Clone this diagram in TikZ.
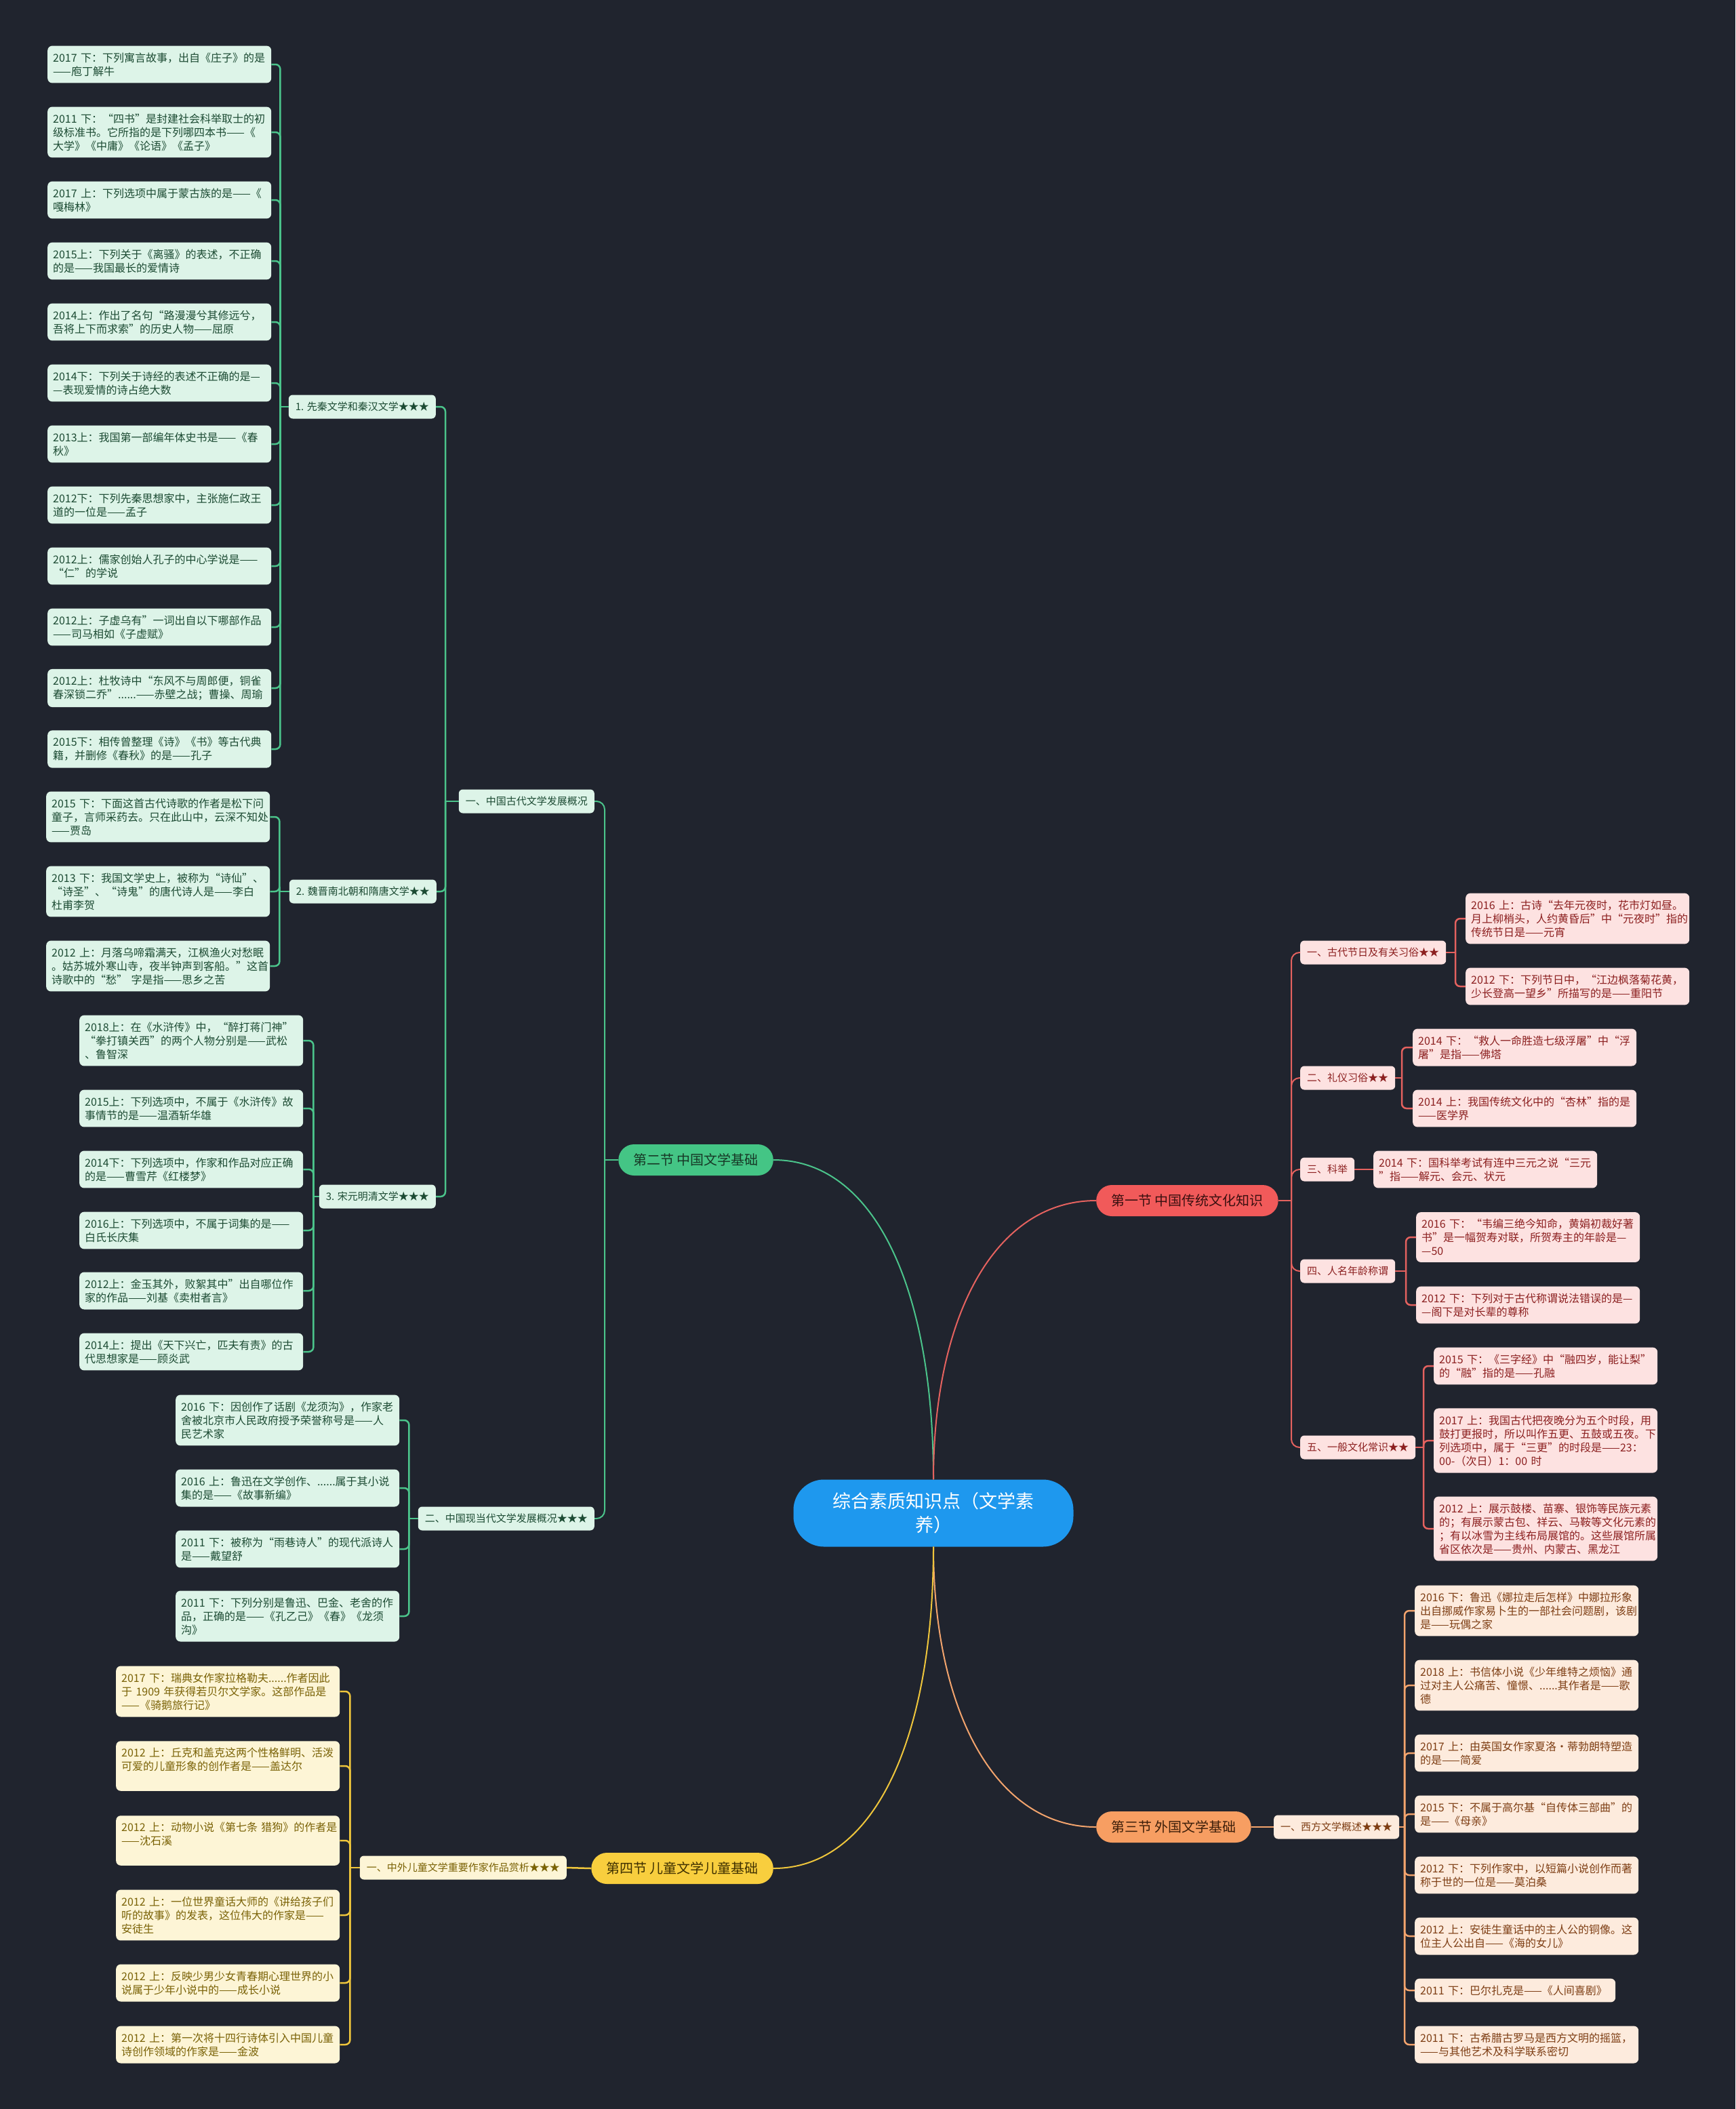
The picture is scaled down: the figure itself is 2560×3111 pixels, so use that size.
\documentclass[tikz,border=0pt]{standalone}
\usepackage{fontspec}
\newfontfamily\cjk{Noto Sans CJK SC}
\usetikzlibrary{positioning}

\definecolor{bgdark}{HTML}{20242E}
\definecolor{rootblue}{HTML}{1E98EE}
\definecolor{gmain}{HTML}{44C585}
\definecolor{gline}{HTML}{4BC48B}
\definecolor{gfill}{HTML}{DDF4E8}
\definecolor{gtext}{HTML}{1C4B33}
\definecolor{gdark}{HTML}{173826}
\definecolor{rmain}{HTML}{F15A5A}
\definecolor{rline}{HTML}{E5625F}
\definecolor{rfill}{HTML}{FDE2E1}
\definecolor{rtext}{HTML}{8C2020}
\definecolor{rdark}{HTML}{3A1010}
\definecolor{omain}{HTML}{F79E62}
\definecolor{oline}{HTML}{F3A46D}
\definecolor{ofill}{HTML}{FDEBDD}
\definecolor{otext}{HTML}{7E3E14}
\definecolor{odark}{HTML}{3D1F0A}
\definecolor{ymain}{HTML}{F8CE3E}
\definecolor{yline}{HTML}{EFC63C}
\definecolor{yfill}{HTML}{FDF5D6}
\definecolor{ytext}{HTML}{7A6206}
\definecolor{ydark}{HTML}{3F3000}

\tikzset{
  rootbox/.style={fill=rootblue,text=white,rounded corners=45pt,minimum width=413pt,
    minimum height=99pt,align=center,font={\cjk\fontsize{27}{35}\selectfont}},
  secbox/.style={rounded corners=23pt,inner xsep=22pt,inner ysep=0pt,minimum height=46pt,
    font={\cjk\fontsize{20}{24}\selectfont}},
  topicbox/.style={rounded corners=6pt,inner xsep=10pt,inner ysep=0pt,minimum height=35pt,
    font={\cjk\fontsize{15}{18}\selectfont}},
  leafbox/.style={rounded corners=7pt,align=left,text width=314pt,inner xsep=8pt,
    inner ysep=10pt,anchor=west,font={\cjk\fontsize{16}{20}\selectfont}},
  gtopic/.style={topicbox,fill=gfill,text=gtext},
  rtopic/.style={topicbox,fill=rfill,text=rtext},
  otopic/.style={topicbox,fill=ofill,text=otext},
  ytopic/.style={topicbox,fill=yfill,text=ytext},
  gleaf/.style={leafbox,fill=gfill,text=gtext},
  rleaf/.style={leafbox,fill=rfill,text=rtext},
  oleaf/.style={leafbox,fill=ofill,text=otext},
  yleaf/.style={leafbox,fill=yfill,text=ytext},
  gwire/.style={draw=gline,line width=2.5pt,rounded corners=7pt},
  rwire/.style={draw=rline,line width=2.5pt,rounded corners=7pt},
  owire/.style={draw=oline,line width=2.5pt,rounded corners=7pt},
  ywire/.style={draw=yline,line width=2.5pt,rounded corners=7pt},
  gmainwire/.style={draw=gline,line width=2pt,rounded corners=12pt},
  rmainwire/.style={draw=rline,line width=2pt,rounded corners=12pt},
}

\begin{document}
\begin{tikzpicture}[x=1pt,y=-1pt]
  \fill[bgdark] (0,0) rectangle (2560,3111);
  \useasboundingbox (0,0) rectangle (2560,3111);

  % centre and sections
  \node[rootbox] (root) at (1377,2232) {综合素质知识点（文学素\\养）};
  \node[secbox,fill=gmain,text=gdark,anchor=east] (sec2) at (1141,1711) {第二节 中国文学基础};
  \node[secbox,fill=rmain,text=rdark,anchor=west] (sec1) at (1617,1771) {第一节 中国传统文化知识};
  \node[secbox,fill=omain,text=odark,anchor=west] (sec3) at (1617,2695) {第三节 外国文学基础};
  \node[secbox,fill=ymain,text=ydark,anchor=east] (sec4) at (1141,2756) {第四节 儿童文学儿童基础};

  % second section: Chinese literature
  \node[gtopic,anchor=east] (anc) at (877,1182) {一、中国古代文学发展概况};
  \node[gtopic,anchor=east] (modn) at (877,2240) {二、中国现当代文学发展概况★★★};
  \node[gtopic,anchor=east] (pre) at (643,600) {1. 先秦文学和秦汉文学★★★};
  \node[gtopic,anchor=east] (wei) at (644,1315) {2. 魏晋南北朝和隋唐文学★★};
  \node[gtopic,anchor=east] (song) at (643,1765) {3. 宋元明清文学★★★};

  \node[gleaf] (pre1) at (70,95) {2017~下：下列寓言故事，出自《庄子》的是\\——庖丁解牛};
  \node[gleaf] (pre2) at (70,195) {2011~下：“四书”是封建社会科举取士的初\\级标准书。它所指的是下列哪四本书——《\\大学》《中庸》《论语》《孟子》};
  \node[gleaf] (pre3) at (70,295) {2017~上：下列选项中属于蒙古族的是——《\\嘎梅林》};
  \node[gleaf] (pre4) at (70,385) {2015上：下列关于《离骚》的表述，不正确\\的是——我国最长的爱情诗};
  \node[gleaf] (pre5) at (70,475) {2014上：作出了名句“路漫漫兮其修远兮，\\吾将上下而求索”的历史人物——屈原};
  \node[gleaf] (pre6) at (70,565) {2014下：下列关于诗经的表述不正确的是—\\—表现爱情的诗占绝大数};
  \node[gleaf] (pre7) at (70,655) {2013上：我国第一部编年体史书是——《春\\秋》};
  \node[gleaf] (pre8) at (70,745) {2012下：下列先秦思想家中，主张施仁政王\\道的一位是——孟子};
  \node[gleaf] (pre9) at (70,835) {2012上：儒家创始人孔子的中心学说是——\\“仁”的学说};
  \node[gleaf] (pre10) at (70,925) {2012上：子虚乌有”一词出自以下哪部作品\\——司马相如《子虚赋》};
  \node[gleaf] (pre11) at (70,1015) {2012上：杜牧诗中“东风不与周郎便，铜雀\\春深锁二乔”......——赤壁之战；曹操、周瑜};
  \node[gleaf] (pre12) at (70,1105) {2015下：相传曾整理《诗》《书》等古代典\\籍，并删修《春秋》的是——孔子};

  \node[gleaf] (wei1) at (68,1205) {2015~下：下面这首古代诗歌的作者是松下问\\童子，言师采药去。只在此山中，云深不知处\\——贾岛};
  \node[gleaf] (wei2) at (68,1315) {2013~下：我国文学史上，被称为“诗仙”、\\“诗圣”、“诗鬼”的唐代诗人是——李白\\杜甫李贺};
  \node[gleaf] (wei3) at (68,1425) {2012~上：月落乌啼霜满天，江枫渔火对愁眠\\。姑苏城外寒山寺，夜半钟声到客船。”这首\\诗歌中的“愁”~字是指——思乡之苦};

  \node[gleaf] (song1) at (117,1535) {2018上：在《水浒传》中，“醉打蒋门神”\\“拳打镇关西”的两个人物分别是——武松\\、鲁智深};
  \node[gleaf] (song2) at (117,1635) {2015上：下列选项中，不属于《水浒传》故\\事情节的是——温酒斩华雄};
  \node[gleaf] (song3) at (117,1725) {2014下：下列选项中，作家和作品对应正确\\的是——曹雪芹《红楼梦》};
  \node[gleaf] (song4) at (117,1815) {2016上：下列选项中，不属于词集的是——\\白氏长庆集};
  \node[gleaf] (song5) at (117,1904) {2012上：金玉其外，败絮其中”出自哪位作\\家的作品——刘基《卖柑者言》};
  \node[gleaf] (song6) at (117,1994) {2014上：提出《天下兴亡，匹夫有责》的古\\代思想家是——顾炎武};

  \node[gleaf] (modn1) at (259,2095) {2016~下：因创作了话剧《龙须沟》，作家老\\舍被北京市人民政府授予荣誉称号是——人\\民艺术家};
  \node[gleaf] (modn2) at (259,2195) {2016~上：鲁迅在文学创作、......属于其小说\\集的是——《故事新编》};
  \node[gleaf] (modn3) at (259,2285) {2011~下：被称为“雨巷诗人”的现代派诗人\\是——戴望舒};
  \node[gleaf] (modn4) at (259,2384) {2011~下：下列分别是鲁迅、巴金、老舍的作\\品，正确的是——《孔乙己》《春》《龙须\\沟》};

  % fourth section: children's literature
  \node[ytopic,anchor=east] (child) at (836,2755) {一、中外儿童文学重要作家作品赏析★★★};
  \node[yleaf] (child1) at (171,2495) {2017~下：瑞典女作家拉格勒夫......作者因此\\于~1909~年获得若贝尔文学家。这部作品是\\——《骑鹅旅行记》};
  \node[yleaf] (child2) at (171,2605) {2012~上：丘克和盖克这两个性格鲜明、活泼\\可爱的儿童形象的创作者是——盖达尔\\\mbox{}};
  \node[yleaf] (child3) at (171,2715) {2012~上：动物小说《第七条~猎狗》的作者是\\——沈石溪\\\mbox{}};
  \node[yleaf] (child4) at (171,2825) {2012~上：一位世界童话大师的《讲给孩子们\\听的故事》的发表，这位伟大的作家是——\\安徒生};
  \node[yleaf] (child5) at (171,2925) {2012~上：反映少男少女青春期心理世界的小\\说属于少年小说中的——成长小说};
  \node[yleaf] (child6) at (171,3016) {2012~上：第一次将十四行诗体引入中国儿童\\诗创作领域的作家是——金波};

  % first section: traditional culture
  \node[rtopic,anchor=west] (fest) at (1918,1405) {一、古代节日及有关习俗★★};
  \node[rtopic,anchor=west] (etiq) at (1918,1590) {二、礼仪习俗★★};
  \node[rtopic,anchor=west] (exam) at (1918,1725) {三、科举};
  \node[rtopic,anchor=west] (title) at (1918,1875) {四、人名年龄称谓};
  \node[rtopic,anchor=west] (cult) at (1918,2135) {五、一般文化常识★★};

  \node[rleaf] (fest1) at (2162,1355) {2016~上：古诗“去年元夜时，花市灯如昼。\\月上柳梢头，人约黄昏后”中“元夜时”指的\\传统节日是——元宵};
  \node[rleaf] (fest2) at (2162,1455) {2012~下：下列节日中，“江边枫落菊花黄，\\少长登高一望乡”所描写的是——重阳节};
  \node[rleaf] (etiq1) at (2084,1545) {2014~下：“救人一命胜造七级浮屠”中“浮\\屠”是指——佛塔};
  \node[rleaf] (etiq2) at (2084,1635) {2014~上：我国传统文化中的“杏林”指的是\\——医学界};
  \node[rleaf] (exam1) at (2026,1725) {2014~下：国科举考试有连中三元之说“三元\\”指——解元、会元、状元};
  \node[rleaf] (title1) at (2089,1825) {2016~下：“韦编三绝今知命，黄娟初裁好著\\书”是一幅贺寿对联，所贺寿主的年龄是—\\—50};
  \node[rleaf] (title2) at (2089,1925) {2012~下：下列对于古代称谓说法错误的是—\\—阁下是对长辈的尊称};
  \node[rleaf] (cult1) at (2115,2015) {2015~下：《三字经》中“融四岁，能让梨”\\的“融”指的是——孔融};
  \node[rleaf] (cult2) at (2115,2125) {2017~上：我国古代把夜晚分为五个时段，用\\鼓打更报时，所以叫作五更、五鼓或五夜。下\\列选项中，属于“三更”的时段是——23：\\00-（次日）1：00~时};
  \node[rleaf] (cult3) at (2115,2255) {2012~上：展示鼓楼、苗寨、银饰等民族元素\\的；有展示蒙古包、祥云、马鞍等文化元素的\\；有以冰雪为主线布局展馆的。这些展馆所属\\省区依次是——贵州、内蒙古、黑龙江};

  % third section: foreign literature
  \node[otopic,anchor=west] (wlit) at (1879,2695) {一、西方文学概述★★★};
  \node[oleaf] (wlit1) at (2087,2376) {2016~下：鲁迅《娜拉走后怎样》中娜拉形象\\出自挪威作家易卜生的一部社会问题剧，该剧\\是——玩偶之家};
  \node[oleaf] (wlit2) at (2087,2486) {2018~上：书信体小说《少年维特之烦恼》通\\过对主人公痛苦、憧憬、......其作者是——歌\\德};
  \node[oleaf] (wlit3) at (2087,2586) {2017~上：由英国女作家夏洛•蒂勃朗特塑造\\的是——简爱};
  \node[oleaf] (wlit4) at (2087,2676) {2015~下：不属于高尔基“自传体三部曲”的\\是——《母亲》};
  \node[oleaf] (wlit5) at (2087,2766) {2012~下：下列作家中，以短篇小说创作而著\\称于世的一位是——莫泊桑};
  \node[oleaf] (wlit6) at (2087,2856) {2012~上：安徒生童话中的主人公的铜像。这\\位主人公出自——《海的女儿》};
  \node[oleaf,text width=280pt] (wlit7) at (2087,2936) {2011~下：巴尔扎克是——《人间喜剧》};
  \node[oleaf] (wlit8) at (2087,3016) {2011~下：古希腊古罗马是西方文明的摇篮，\\——与其他艺术及科学联系密切};

  % main branches
  \draw[gline,line width=2pt] (root.north) .. controls +(0,-280) and +(150,0) .. (sec2.east);
  \draw[rline,line width=2pt] (root.north) .. controls +(0,-240) and +(-150,0) .. (sec1.west);
  \draw[oline,line width=2pt] (root.south) .. controls +(0,240) and +(-150,0) .. (sec3.west);
  \draw[yline,line width=2pt] (root.south) .. controls +(0,280) and +(150,0) .. (sec4.east);

  % green brackets
  \path (anc.east |- sec2.west) ++(15,0) coordinate (sec2T);
  \draw[gmainwire] (sec2.west) -- (sec2T);
  \foreach \n in {anc,modn} \draw[gmainwire] (sec2T) |- (\n.east);
  \path (pre.east |- anc.west) ++(14,0) coordinate (ancT);
  \draw[gwire] (anc.west) -- (ancT);
  \foreach \n in {pre,wei,song} \draw[gwire] (ancT) |- (\n.east);
  \path (pre1.east |- pre.west) ++(13,0) coordinate (preT);
  \draw[gwire] (pre.west) -- (preT);
  \foreach \i in {1,...,12} \draw[gwire] (preT) |- (pre\i.east);
  \path (wei1.east |- wei.west) ++(14,0) coordinate (weiT);
  \draw[gwire] (wei.west) -- (weiT);
  \foreach \i in {1,2,3} \draw[gwire] (weiT) |- (wei\i.east);
  \path (song1.east |- song.west) ++(15,0) coordinate (songT);
  \draw[gwire] (song.west) -- (songT);
  \foreach \i in {1,...,6} \draw[gwire] (songT) |- (song\i.east);
  \path (modn1.east |- modn.west) ++(14,0) coordinate (modnT);
  \draw[gwire] (modn.west) -- (modnT);
  \foreach \i in {1,...,4} \draw[gwire] (modnT) |- (modn\i.east);

  % yellow brackets
  \draw[ywire] (child.east) -- (sec4.west);
  \path (child1.east |- child.west) ++(15,0) coordinate (childT);
  \draw[ywire] (child.west) -- (childT);
  \foreach \i in {1,...,6} \draw[ywire] (childT) |- (child\i.east);

  % red brackets
  \path (fest.west |- sec1.east) ++(-13,0) coordinate (sec1T);
  \draw[rmainwire] (sec1.east) -- (sec1T);
  \foreach \n in {fest,etiq,exam,title,cult} \draw[rmainwire] (sec1T) |- (\n.west);
  \path (fest1.west |- fest.east) ++(-15,0) coordinate (festT);
  \draw[rwire] (fest.east) -- (festT);
  \foreach \i in {1,2} \draw[rwire] (festT) |- (fest\i.west);
  \path (etiq1.west |- etiq.east) ++(-16,0) coordinate (etiqT);
  \draw[rwire] (etiq.east) -- (etiqT);
  \foreach \i in {1,2} \draw[rwire] (etiqT) |- (etiq\i.west);
  \draw[rwire] (exam.east) -- (exam1.west);
  \path (title1.west |- title.east) ++(-15,0) coordinate (titleT);
  \draw[rwire] (title.east) -- (titleT);
  \foreach \i in {1,2} \draw[rwire] (titleT) |- (title\i.west);
  \path (cult1.west |- cult.east) ++(-15,0) coordinate (cultT);
  \draw[rwire] (cult.east) -- (cultT);
  \foreach \i in {1,2,3} \draw[rwire] (cultT) |- (cult\i.west);

  % orange brackets
  \draw[owire] (sec3.east) -- (wlit.west);
  \path (wlit1.west |- wlit.east) ++(-15,0) coordinate (wlitT);
  \draw[owire] (wlit.east) -- (wlitT);
  \foreach \i in {1,...,8} \draw[owire] (wlitT) |- (wlit\i.west);
\end{tikzpicture}
\end{document}
